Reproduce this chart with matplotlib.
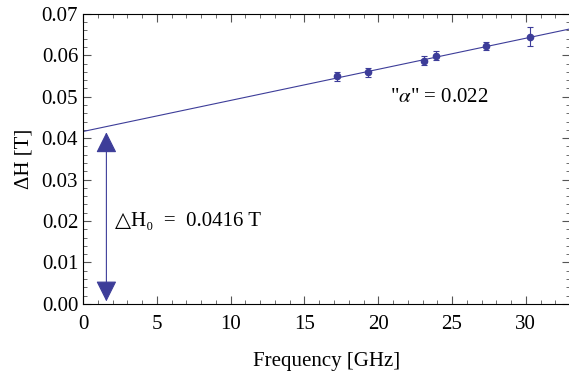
import matplotlib.pyplot as plt
from matplotlib.ticker import MultipleLocator

freq = [17.2, 19.3, 23.1, 23.9, 27.3, 30.3]
dH = [0.0549, 0.0559, 0.0587, 0.0599, 0.0623, 0.0645]
dH_err = [0.0011, 0.0011, 0.0011, 0.0010, 0.0010, 0.0023]

intercept = 0.0416
slope = 0.00075
fit_x = [0, 33]

BLUE = "#3d3d99"
plt.rcParams["font.family"] = ["Liberation Serif", "DejaVu Serif"]
plt.rcParams["mathtext.fontset"] = "stix"

fig = plt.figure(figsize=(5.69, 3.72), dpi=100)
ax = fig.add_axes([0.146, 0.183, 0.856, 0.780])

ax.plot(fit_x, [intercept + slope * x for x in fit_x], color=BLUE, lw=0.8)
ax.errorbar(freq, dH, yerr=dH_err, fmt="o", color=BLUE, ms=4.5,
            elinewidth=0.8, capsize=2.5, capthick=0.8)

# double arrow marking the intercept
ax.annotate("", xy=(1.58, 0.0006), xytext=(1.58, 0.0414),
            arrowprops=dict(arrowstyle="<|-|>,head_length=1.0,head_width=0.5",
                            color=BLUE, lw=0.8, shrinkA=0, shrinkB=0,
                            mutation_scale=13))
ax.text(2.15, 0.02, "△H\u2080  =  0.0416 T", fontsize=15, va="center", ha="left")
ax.text(20.8, 0.0497, '"$\\alpha$" = 0.022', fontsize=15, va="center", ha="left")

ax.set_xlim(0, 33)
ax.set_ylim(0, 0.07)
ax.xaxis.set_major_locator(MultipleLocator(5))
ax.xaxis.set_minor_locator(MultipleLocator(1))
ax.yaxis.set_major_locator(MultipleLocator(0.01))
ax.yaxis.set_minor_locator(MultipleLocator(0.002))
ax.yaxis.set_major_formatter(plt.FuncFormatter(lambda v, p: f"{v:.2f}"))
ax.tick_params(which="both", direction="in", top=True, right=True,
               labelsize=15, color="#555555")
ax.tick_params(axis="x", which="major", pad=8)
ax.tick_params(which="major", length=6, width=0.8)
ax.tick_params(which="minor", length=3, width=0.6)
for s in ax.spines.values():
    s.set_linewidth(0.8)

ax.set_xlabel("Frequency [GHz]", fontsize=15, labelpad=13)
ax.set_ylabel("ΔH [T]", fontsize=15, labelpad=6)

fig.savefig("out.png", dpi=100)
